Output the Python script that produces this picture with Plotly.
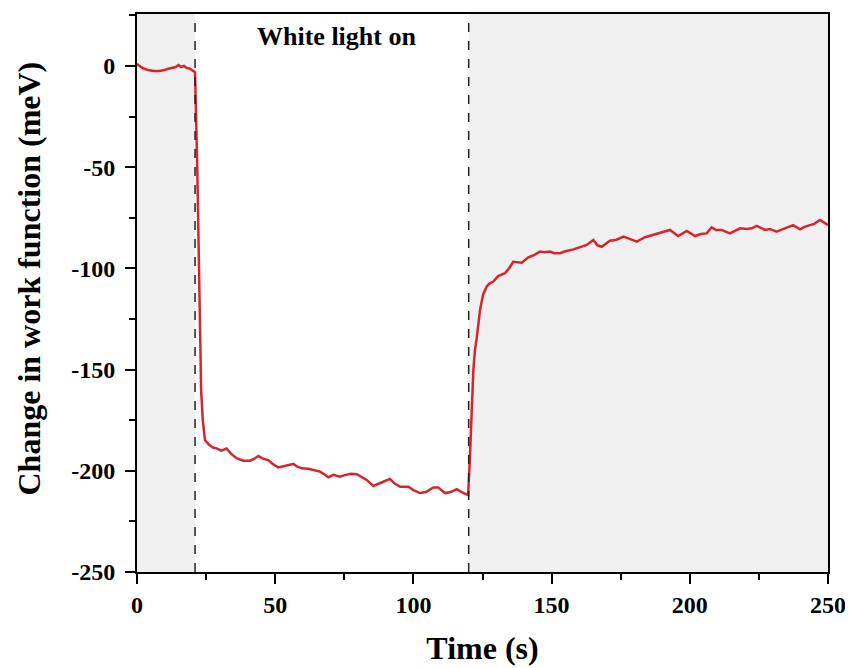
import plotly.graph_objects as go

# time (s) and change in work function (meV)
time_dark = [0, 2, 4, 6, 8, 9, 10, 11, 12, 13, 14, 15, 16, 17, 18, 19, 20, 21]
wf_dark = [1, -1, -2, -2.5, -2.5, -2.3, -2, -1.5, -1.2, -1, -0.5, 0.5, -0.5, 0, -1, -1.2, -2, -3]

time_light = [21.8, 22.5, 23.2, 23.8, 24.6, 26, 27.5, 28.8, 30.5, 32.4, 34, 36, 38.5, 40.9, 42.5,
              43.9, 45.5, 47.5, 49, 51.1, 53.5, 56.6, 58, 59.6, 62, 64, 66.2, 67.5, 69.2, 71,
              73.4, 75.5, 77.5, 79.5, 81, 83.1, 85.5, 87.5, 89.1, 91.5, 93, 95.2, 98.2, 100,
              102.4, 104.5, 107.2, 109, 111.4, 113.5, 115.7, 117.5, 119.3, 119.8]
wf_light = [-50, -110, -160, -175, -184.8, -187, -188.5, -188.9, -190, -189, -191.5, -193.8, -195,
            -195, -194, -192.7, -194, -194.7, -196.5, -198.3, -197.5, -196.6, -198, -198.8, -199,
            -199.5, -200.4, -201.5, -203.2, -202, -202.9, -202, -201.5, -201.7, -203, -204.5,
            -207.5, -206.5, -205.4, -204, -206, -207.9, -207.9, -209.5, -211, -210.5, -208.2,
            -208.2, -211, -210.5, -209.1, -210.5, -211.5, -212]

time_off = [120.4, 121, 121.7, 122.3, 122.9, 124.1, 125.2, 126.5, 127.5, 128.9, 130.7, 133.1, 134.6,
            136.1, 137.5, 139.2, 141.6, 143.5, 145.8, 147.5, 149.4, 151, 153, 155, 157.9, 160,
            162.7, 165.1, 166.5, 168.1, 171.1, 173.5, 176, 178.5, 180.8, 183.8, 186.5, 189.2,
            192.8, 195.8, 198.9, 201.9, 204, 206.1, 207.9, 209.5, 211.5, 214.5, 216.5, 218.2,
            220.5, 222.4, 224.2, 227.2, 229, 231.4, 233, 235, 237.4, 239.9, 241.5, 243.5, 245,
            247.1, 248.5, 250]
wf_off = [-195, -170, -150, -140, -134.5, -120.6, -113, -109, -107.5, -106.5, -103.8, -102.4, -100,
          -96.7, -97, -97.2, -94.5, -93.5, -91.7, -92, -91.7, -92.5, -92.5, -91.5, -90.6, -89.5,
          -88.4, -86, -88.5, -89.3, -86.3, -85.8, -84.3, -85.5, -86.8, -84.6, -83.5, -82.3, -81,
          -84, -81.5, -84, -83, -82.7, -79.7, -81, -81, -82.7, -81.5, -80.2, -80.5, -80.2, -79,
          -81, -80.5, -81.8, -81, -80, -78.6, -80.7, -79.5, -78.6, -78, -76.1, -77.5, -78.6]

light_on, light_off = 21, 120
x_ticks = [0, 50, 100, 150, 200, 250]
y_ticks = [0, -50, -100, -150, -200, -250]

FONT = "Liberation Serif"

fig = go.Figure()
fig.add_trace(go.Scatter(
    x=time_dark + time_light + time_off,
    y=wf_dark + wf_light + wf_off,
    mode="lines",
    line=dict(color="#d7262b", width=2.5),
    showlegend=False,
))

# dark periods shaded grey
for x0, x1 in [(0, light_on), (light_off, 250)]:
    fig.add_shape(type="rect", xref="x", yref="paper", x0=x0, x1=x1, y0=0, y1=1,
                  fillcolor="#f0f0f0", line_width=0, layer="below")
for xv in [light_on, light_off]:
    fig.add_shape(type="line", xref="x", yref="paper", x0=xv, x1=xv, y0=0, y1=1,
                  line=dict(color="#222222", width=1.5, dash="dash"))

fig.add_annotation(x=72, y=14.5, text="White light on", showarrow=False,
                   font=dict(family=FONT, size=26, color="black", weight="bold"))

# y title sits a bit above the axis centre in the original, so place it by hand
fig.add_annotation(x=0, xref="paper", xshift=-108, y=-105, yref="y",
                   text="Change in work function (meV)", textangle=-90, showarrow=False,
                   xanchor="center", yanchor="middle",
                   font=dict(family=FONT, size=32, color="black", weight="bold"))

axis_common = dict(
    showline=True, linecolor="black", linewidth=2, mirror=True,
    ticks="outside", ticklen=10, tickwidth=2, tickcolor="black",
    showgrid=False, zeroline=False,
    tickfont=dict(family=FONT, size=24, color="black", weight="bold"),
)
minor_ticks = dict(ticks="outside", ticklen=6, tickwidth=2, tickcolor="black", dtick=25)

fig.update_xaxes(
    range=[0, 250], tickvals=x_ticks, ticktext=[str(v) for v in x_ticks],
    minor=minor_ticks,
    title=dict(text="Time (s)", font=dict(family=FONT, size=32, color="black", weight="bold"), standoff=20),
    **axis_common,
)
fig.update_yaxes(
    range=[-250, 25.7], tickvals=y_ticks, ticktext=[str(v) for v in y_ticks],
    minor=minor_ticks, ticklabelstandoff=5,
    **axis_common,
)

# page body adds an 8px margin, so the figure is sized to fit the window
fig.update_layout(
    width=845, height=660,
    margin=dict(l=129, r=25, t=6, b=96, autoexpand=False),
    plot_bgcolor="white", paper_bgcolor="white",
)

fig.write_html("out.html")
